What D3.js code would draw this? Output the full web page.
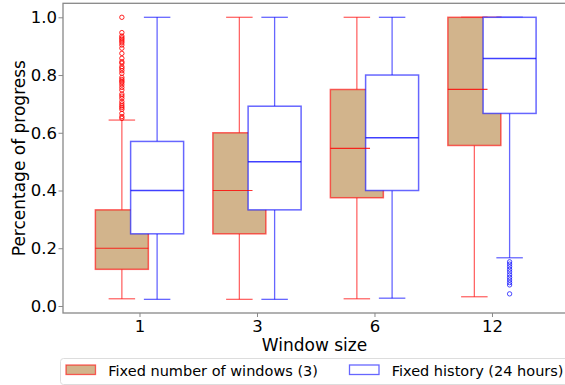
<!DOCTYPE html>
<html><head><meta charset="utf-8">
<script src="https://cdn.jsdelivr.net/npm/d3@7"></script>
<style>body{margin:0;background:#fff}svg{display:block;font-family:"DejaVu Sans",sans-serif}</style>
</head><body><svg id="c" width="565" height="385"></svg>
<script>
const categories = ["1", "3", "6", "12"];
const seriesNames = ["Fixed number of windows (3)", "Fixed history (24 hours)"];
const yTicks = [0.0, 0.2, 0.4, 0.6, 0.8, 1.0];

// Series 1: Fixed number of windows (3)
const fwQ1 = [0.127, 0.25, 0.375, 0.556];
const fwMedian = [0.2, 0.4, 0.546, 0.75];
const fwQ3 = [0.333, 0.6, 0.75, 1.0];
const fwWhiskerLow = [0.025, 0.023, 0.025, 0.032];
const fwWhiskerHigh = [0.644, 1.0, 1.0, 1.0];
const fwOutliers = [
  [1.0, 0.947, 0.935, 0.929, 0.924, 0.918, 0.912, 0.904, 0.893, 0.875, 0.858, 0.846, 0.841, 0.829, 0.823, 0.815, 0.806, 0.792, 0.785, 0.779, 0.774, 0.766, 0.757, 0.748, 0.734, 0.727, 0.719, 0.708, 0.700, 0.693, 0.687, 0.681, 0.667, 0.656, 0.650],
  [], [], []
];

// Series 2: Fixed history (24 hours)
const fhQ1 = [0.25, 0.333, 0.4, 0.667];
const fhMedian = [0.4, 0.5, 0.583, 0.857];
const fhQ3 = [0.57, 0.692, 0.8, 1.0];
const fhWhiskerLow = [0.023, 0.023, 0.027, 0.167];
const fhWhiskerHigh = [1.0, 1.0, 1.0, 1.0];
const fhOutliers = [
  [], [], [],
  [0.153, 0.145, 0.136, 0.127, 0.118, 0.108, 0.099, 0.090, 0.081, 0.073, 0.042]
];

const svg = d3.select("#c");
const L = 63, R = 566, T = 3.3, B = 313;
const x = d3.scaleLinear().domain([0.349, 4.63]).range([L, R]);
const y = d3.scaleLinear().domain([-0.0243, 1.0485]).range([B, T]);
const boxW = x(1.451) - x(1);
const off = x(1.15) - x(1);

function build(q1, med, q3, lo, hi, outs, dir) {
  return categories.map((c, i) => ({c, i, q1: q1[i], med: med[i], q3: q3[i], lo: lo[i], hi: hi[i], outs: outs[i],
    cx: x(i + 1) + dir * off}));
}
const fw = build(fwQ1, fwMedian, fwQ3, fwWhiskerLow, fwWhiskerHigh, fwOutliers, -1);
const fh = build(fhQ1, fhMedian, fhQ3, fhWhiskerLow, fhWhiskerHigh, fhOutliers, 1);

const red = "rgba(255,0,0,0.6)", blue = "rgba(0,0,255,0.6)";

function whiskers(g, data, col) {
  const gg = g.append("g").attr("stroke", col).attr("stroke-width", 1.3).attr("fill", "none");
  data.forEach(d => {
    gg.append("line").attr("x1", d.cx).attr("x2", d.cx).attr("y1", y(d.q3)).attr("y2", y(d.hi));
    gg.append("line").attr("x1", d.cx).attr("x2", d.cx).attr("y1", y(d.q1)).attr("y2", y(d.lo));
    gg.append("line").attr("x1", d.cx - boxW / 4).attr("x2", d.cx + boxW / 4).attr("y1", y(d.hi)).attr("y2", y(d.hi));
    gg.append("line").attr("x1", d.cx - boxW / 4).attr("x2", d.cx + boxW / 4).attr("y1", y(d.lo)).attr("y2", y(d.lo));
  });
}
function boxes(g, data, fill, col) {
  g.append("g").selectAll("rect").data(data).join("rect")
    .attr("x", d => d.cx - boxW / 2).attr("width", boxW)
    .attr("y", d => y(d.q3)).attr("height", d => y(d.q1) - y(d.q3))
    .attr("fill", fill).attr("stroke", col).attr("stroke-width", 1.5);
}
function fliers(g, data, col) {
  data.forEach(d => {
    g.append("g").selectAll("circle").data(d.outs).join("circle")
      .attr("cx", d.cx).attr("cy", v => y(v)).attr("r", 2.2)
      .attr("fill", "none").attr("stroke", col).attr("stroke-width", 1);
  });
}

const plot = svg.append("g");
// red series
whiskers(plot, fw, red);
boxes(plot, fw, "#d2b48c", red);
fliers(plot, fw, "rgba(255,0,0,0.85)");
// blue series
whiskers(plot, fh, blue);
boxes(plot, fh, "#ffffff", blue);
fliers(plot, fh, "rgba(0,0,255,0.7)");
// red medians (partly hidden by blue boxes)
fw.forEach((d, i) => {
  const b = fh[i];
  const covered = d.med > b.q1 && d.med < b.q3;
  const x2 = covered ? Math.min(d.cx + boxW / 2, b.cx - boxW / 2 + 4.4) : d.cx + boxW / 2;
  plot.append("line").attr("x1", d.cx - boxW / 2).attr("x2", x2)
    .attr("y1", y(d.med)).attr("y2", y(d.med)).attr("stroke", "rgba(255,0,0,0.8)").attr("stroke-width", 1.2);
});
fh.forEach(d => {
  plot.append("line").attr("x1", d.cx - boxW / 2).attr("x2", d.cx + boxW / 2)
    .attr("y1", y(d.med)).attr("y2", y(d.med)).attr("stroke", "rgba(0,0,255,0.75)").attr("stroke-width", 1.5);
});

// axes
const spine = "#888";
const yAxis = d3.axisLeft(y).tickValues(yTicks).tickFormat(d3.format(".1f")).tickSize(4.5).tickPadding(1.5);
const gy = svg.append("g").attr("transform", `translate(${L},0)`).call(yAxis);
const xAxis = d3.axisBottom(d3.scalePoint().domain(categories).range([x(1), x(4)])).tickSize(4).tickPadding(3);
const gx = svg.append("g").attr("transform", `translate(0,${B})`).call(xAxis);
[gx, gy].forEach(g => {
  g.select(".domain").remove();
  g.selectAll(".tick line").attr("stroke", spine).attr("stroke-width", 1);
  g.selectAll(".tick text").attr("fill", "#000").style("font-size", "16.5px").style("font-family", "DejaVu Sans");
});
svg.append("rect").attr("x", L).attr("y", T).attr("width", R - L).attr("height", B - T)
  .attr("fill", "none").attr("stroke", spine).attr("stroke-width", 1.3);

svg.append("text").attr("x", (L + R) / 2).attr("y", 351).attr("text-anchor", "middle")
  .style("font-size", "17px").text("Window size");
svg.append("text").attr("transform", `translate(25,${(T + B) / 2}) rotate(-90)`).attr("text-anchor", "middle")
  .style("font-size", "17px").text("Percentage of progress");

// legend
const lg = svg.append("g");
lg.append("rect").attr("x", 60.5).attr("y", 358.5).attr("width", 520).attr("height", 26).attr("rx", 3)
  .attr("fill", "rgba(255,255,255,0.8)").attr("stroke", "#ddd").attr("stroke-width", 1);
const legendItems = [
  {name: seriesNames[0], fill: "#d2b48c", stroke: red, px: 66, tx: 108.3},
  {name: seriesNames[1], fill: "#ffffff", stroke: blue, px: 349.5, tx: 391.7}
];
legendItems.forEach(it => {
  lg.append("rect").attr("x", it.px).attr("y", 365).attr("width", 29.5).attr("height", 9.5)
    .attr("fill", it.fill).attr("stroke", it.stroke).attr("stroke-width", 1.3);
  lg.append("text").attr("x", it.tx).attr("y", 375.5).style("font-size", "14.5px").text(it.name);
});
</script></body></html>
